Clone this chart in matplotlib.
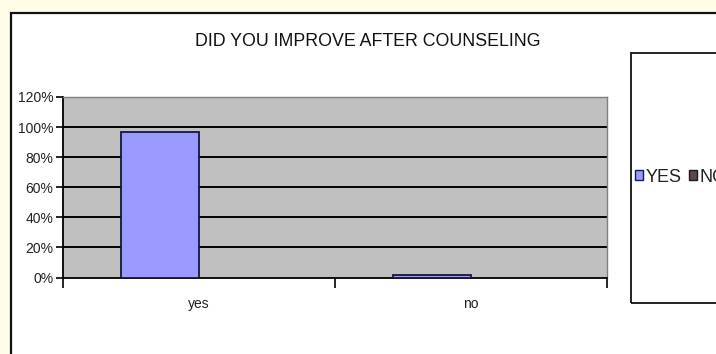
import matplotlib
matplotlib.use("Agg")
import matplotlib.pyplot as plt
from matplotlib.patches import Rectangle

plt.rcParams['font.family'] = ['Liberation Sans', 'DejaVu Sans']

# data
categories = ["yes", "no"]
series_names = ["YES", "NO"]
yes_values = [97, 1.5]
no_values = [0, 0]
y_ticks = [0, 20, 40, 60, 80, 100, 120]
y_labels = ["0%", "20%", "40%", "60%", "80%", "100%", "120%"]
title = "DID YOU IMPROVE AFTER COUNSELING"

W, H = 716, 354
fig = plt.figure(figsize=(W / 100, H / 100), dpi=100)
fig.patch.set_facecolor("#FFFCE8")

def fx(px):
    return px / W

def fy(py):
    return 1 - py / H

# white chart area with black frame (runs off right / bottom)
fig.add_artist(Rectangle((fx(11), fy(380)), fx(760), (380 - 13) / H,
                         transform=fig.transFigure, facecolor="white",
                         edgecolor="#111111", linewidth=1.6, zorder=-1))

# plot area
ax = fig.add_axes([fx(63), fy(277.5), fx(607 - 63), (277.5 - 97) / H])
ax.set_facecolor("#C0C0C0")

x = list(range(len(categories)))
width = 1 / 3.5
b1 = ax.bar([i - width / 2 for i in x], yes_values, width,
            color="#9999FF", edgecolor="#15153F", linewidth=1.3,
            label=series_names[0], zorder=3)
b2 = ax.bar([i + width / 2 for i in x], no_values, width,
            color="#5E4750", edgecolor="#1A1A1A", linewidth=0,
            label=series_names[1], zorder=3)

ax.set_xlim(-0.5, len(categories) - 0.5)
ax.set_ylim(0, 120)
ax.set_yticks(y_ticks)
ax.set_yticklabels(y_labels, fontsize=10, color="#222222")
for v in y_ticks[1:-1]:
    ax.axhline(v, color="black", linewidth=1.4, zorder=2)

ax.set_xticks([i - 0.5 for i in range(len(categories) + 1)])
ax.set_xticklabels([])
ax.set_xticks(x, minor=True)
ax.set_xticklabels(categories, minor=True, fontsize=10, color="#222222")
ax.tick_params(axis="x", which="major", direction="out", length=7, width=1.2)
ax.tick_params(axis="x", which="minor", length=0, pad=14)
ax.tick_params(axis="y", direction="out", length=5, width=1.2, pad=2)

for s in ["top", "right"]:
    ax.spines[s].set_color("#808080")
    ax.spines[s].set_linewidth(1.0)
for s in ["left", "bottom"]:
    ax.spines[s].set_color("black")
    ax.spines[s].set_linewidth(1.3)

fig.text(fx(368), fy(42), title, ha="center", va="center",
         fontsize=12.8, color="#111111")

# legend box and entries
fig.add_artist(Rectangle((fx(631), fy(303)), fx(120), (303 - 53) / H,
                         transform=fig.transFigure, fill=False,
                         edgecolor="#111111", linewidth=1.3))
handles = [Rectangle((0, 0), 1, 1, facecolor="#9999FF", edgecolor="#1A1A55", linewidth=1.0),
           Rectangle((0, 0), 1, 1, facecolor="#5E4750", edgecolor="#1A1A1A", linewidth=1.0)]
fig.legend(handles, series_names, loc="center left", ncol=2,
           bbox_to_anchor=(fx(635), fy(177)), bbox_transform=fig.transFigure,
           frameon=False, fontsize=13, handlelength=0.42, handleheight=0.42,
           handletextpad=0.15, columnspacing=0.45, borderpad=0, borderaxespad=0,
           labelcolor="#222222")

fig.savefig("out.png", dpi=100, facecolor=fig.get_facecolor())
